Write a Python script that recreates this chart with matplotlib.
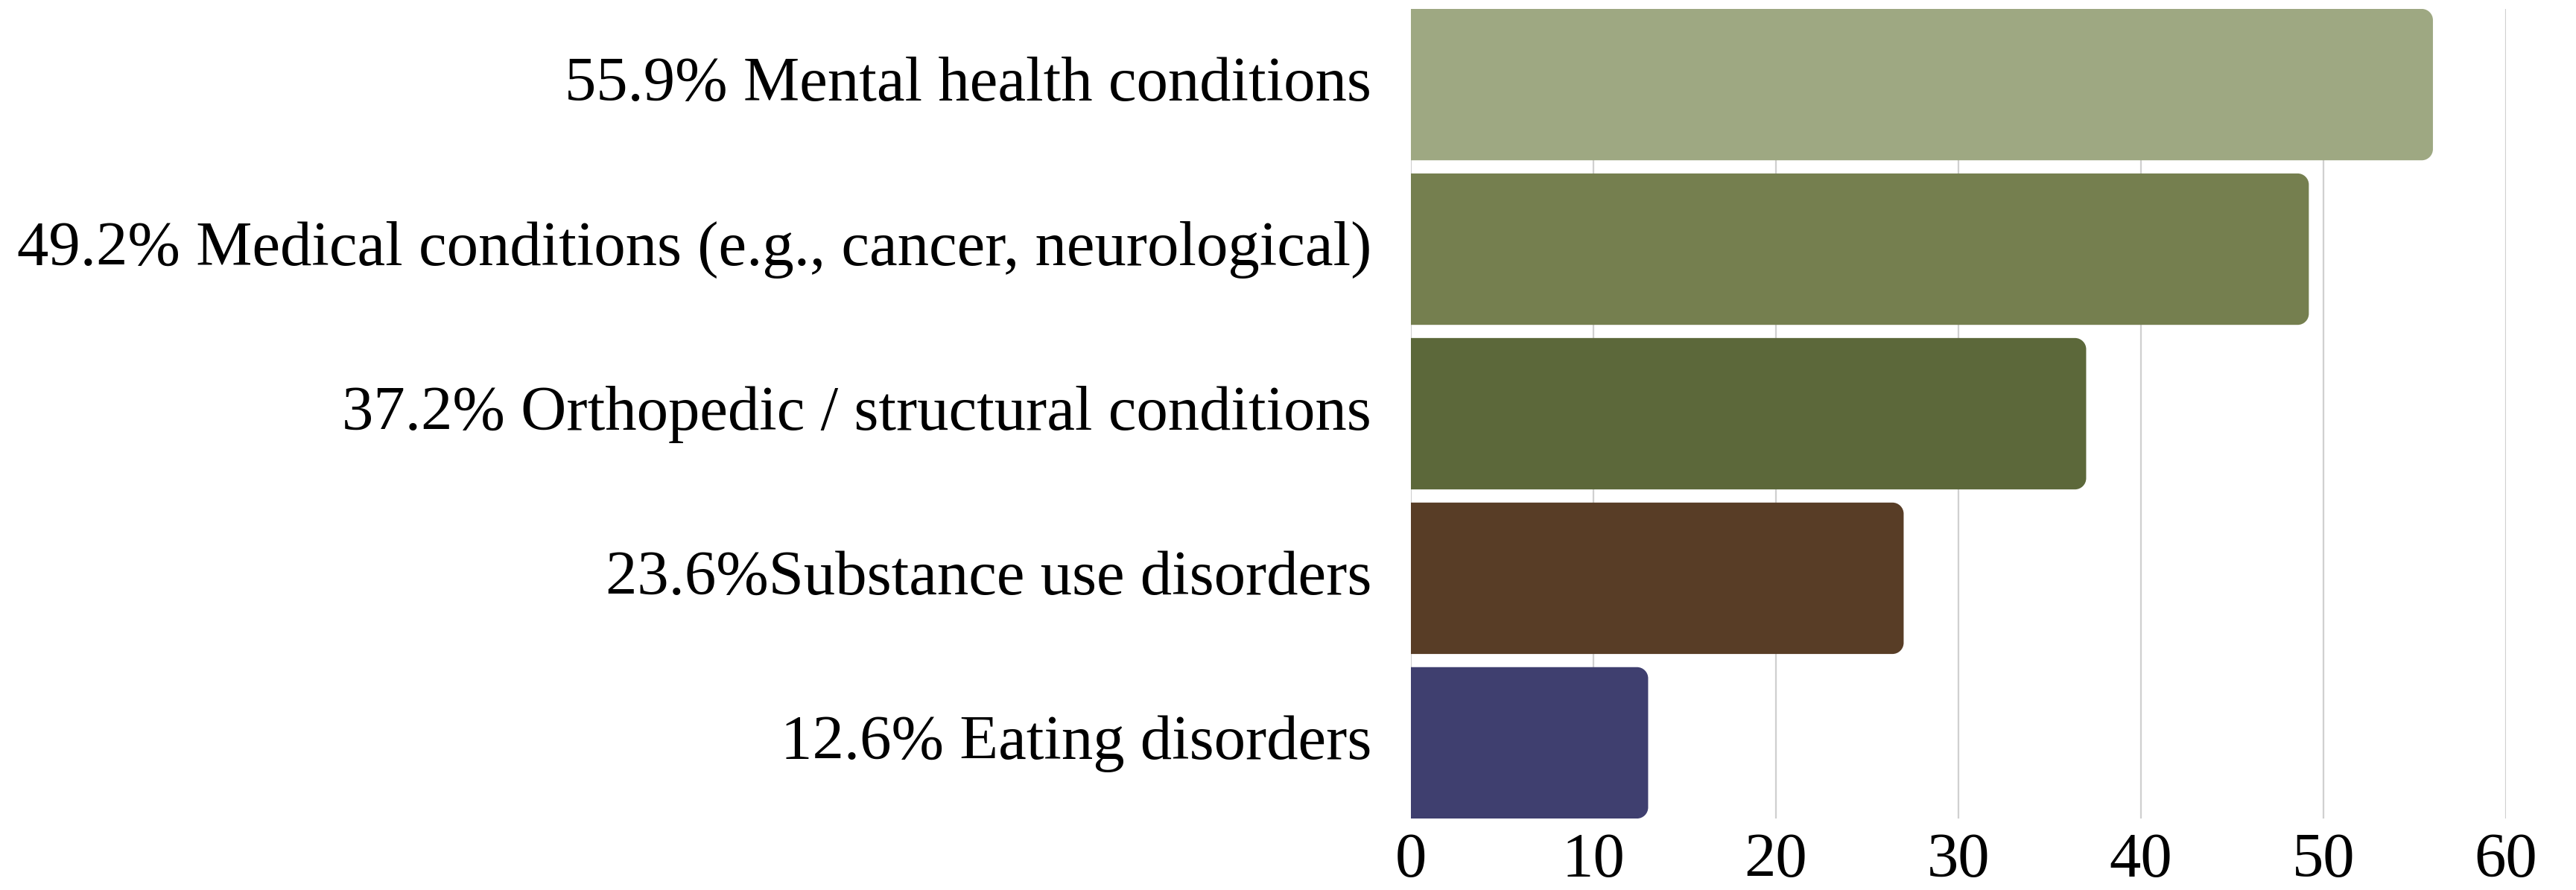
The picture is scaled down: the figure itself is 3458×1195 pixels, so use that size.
import matplotlib.pyplot as plt
import matplotlib.transforms as mtransforms
from matplotlib.path import Path
from matplotlib.patches import PathPatch

# data
labels = [
    "55.9% Mental health conditions",
    "49.2% Medical conditions (e.g., cancer, neurological)",
    "37.2% Orthopedic / structural conditions",
    "23.6%Substance use disorders",
    "12.6% Eating disorders",
]
values = [56.0, 49.2, 37.0, 27.0, 13.0]
colors = ["#9ea882", "#757f4f", "#5c683a", "#583d26", "#3f3f6f"]
x_ticks = [0, 10, 20, 30, 40, 50, 60]

plt.rcParams['font.family'] = ['Liberation Serif', 'DejaVu Serif']

fig = plt.figure(figsize=(34.58, 11.95), dpi=100)
ax = fig.add_axes([0.5477, 0.0803, 0.4251, 0.9097])

pos = list(range(len(labels)))
bars = ax.barh(pos, values, height=0.92, color=colors, zorder=2)
ax.set_xlim(0, 60)
ax.set_ylim(len(labels) - 0.54, -0.46)


# swap each rectangle for one with rounded right corners
def round_right(rect, r_px=15):
    x0, y0 = rect.get_x(), rect.get_y()
    x1, y1 = x0 + rect.get_width(), y0 + rect.get_height()
    sx, sy = ax.transData.transform((1, 1)) - ax.transData.transform((0, 0))
    rx, ry = r_px / abs(sx), r_px / abs(sy)
    k = 0.5523
    verts = [(x0, y0), (x1 - rx, y0),
             (x1 - rx + k * rx, y0), (x1, y0 + ry - k * ry), (x1, y0 + ry),
             (x1, y1 - ry),
             (x1, y1 - ry + k * ry), (x1 - rx + k * rx, y1), (x1 - rx, y1),
             (x0, y1), (x0, y0)]
    codes = [Path.MOVETO, Path.LINETO,
             Path.CURVE4, Path.CURVE4, Path.CURVE4,
             Path.LINETO,
             Path.CURVE4, Path.CURVE4, Path.CURVE4,
             Path.LINETO, Path.CLOSEPOLY]
    return PathPatch(Path(verts, codes), facecolor=rect.get_facecolor(),
                     edgecolor='none', zorder=2)


for b in bars:
    ax.add_patch(round_right(b))
    b.set_visible(False)

ax.set_xticks(x_ticks)
ax.set_yticks(pos)
ax.set_yticklabels(labels)
ax.tick_params(axis='x', length=0, pad=14, labelsize=61)
ax.tick_params(axis='y', length=0, pad=38, labelsize=61)

# nudge the category labels up a little
up = mtransforms.ScaledTranslation(0, 6 / 72, fig.dpi_scale_trans)
for lab in ax.get_yticklabels():
    lab.set_transform(lab.get_transform() + up)

ax.grid(axis='x', color='#d0d0d0', linewidth=1.6, zorder=0)
ax.set_axisbelow(True)
for s in ax.spines.values():
    s.set_visible(False)

fig.savefig('out.png', dpi=100, facecolor='white')
